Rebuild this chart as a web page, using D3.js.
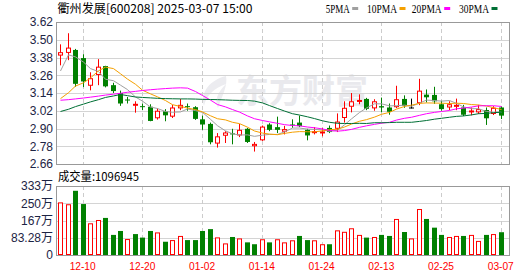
<!DOCTYPE html>
<html>
<head>
<meta charset="utf-8">
<script src="https://cdn.jsdelivr.net/npm/d3@7"></script>
<style>
body { margin: 0; background: #fff; }
svg { display: block; }
</style>
</head>
<body>
<div id="chart"></div>
<script>
// trading days (MM-DD)
const dates = [
    "12-05", "12-06", "12-09", "12-10", "12-11", "12-12", "12-13", "12-16", "12-17", "12-18",
    "12-19", "12-20", "12-23", "12-24", "12-25", "12-26", "12-27", "12-30", "12-31", "01-02",
    "01-03", "01-06", "01-07", "01-08", "01-09", "01-10", "01-13", "01-14", "01-15", "01-16",
    "01-17", "01-20", "01-21", "01-22", "01-23", "01-24", "01-27", "02-05", "02-06", "02-07",
    "02-10", "02-11", "02-12", "02-13", "02-14", "02-17", "02-18", "02-19", "02-20", "02-21",
    "02-24", "02-25", "02-26", "02-27", "02-28", "03-03", "03-04", "03-05", "03-06", "03-07"
];

// daily prices
const opens = [3.393, 3.411, 3.431, 3.376, 3.189, 3.262, 3.322, 3.193, 3.140, 3.096,
    3.056, 3.051, 3.047, 2.969, 3.016, 2.980, 3.036, 3.051, 3.044, 2.962,
    2.931, 2.798, 2.851, 2.867, 2.853, 2.898, 2.780, 2.820, 2.927, 2.909,
    2.878, 2.927, 2.940, 2.891, 2.869, 2.869, 2.904, 2.898, 2.971, 3.047,
    3.087, 3.100, 3.036, 3.051, 3.042, 3.044, 3.100, 3.042, 3.071, 3.129,
    3.127, 3.064, 3.042, 3.047, 3.042, 3.016, 3.009, 3.025, 2.998, 3.042];
const highs = [3.469, 3.544, 3.438, 3.402, 3.280, 3.369, 3.324, 3.209, 3.156, 3.113,
    3.084, 3.069, 3.064, 3.036, 3.031, 3.060, 3.100, 3.069, 3.051, 2.987,
    2.940, 2.869, 2.882, 2.898, 2.931, 2.904, 2.809, 2.920, 2.936, 2.980,
    2.918, 2.962, 2.987, 2.898, 2.909, 2.904, 2.920, 3.002, 3.084, 3.140,
    3.131, 3.107, 3.098, 3.109, 3.069, 3.189, 3.124, 3.102, 3.236, 3.164,
    3.182, 3.087, 3.084, 3.102, 3.060, 3.042, 3.060, 3.042, 3.051, 3.049];
const lows = [3.327, 3.362, 3.182, 3.180, 3.158, 3.193, 3.178, 3.140, 3.053, 3.069,
    3.007, 3.024, 2.949, 2.960, 2.949, 2.971, 3.024, 3.020, 2.958, 2.891,
    2.793, 2.771, 2.802, 2.793, 2.842, 2.802, 2.744, 2.816, 2.882, 2.869,
    2.860, 2.904, 2.909, 2.820, 2.860, 2.847, 2.869, 2.876, 2.940, 3.009,
    3.064, 3.024, 3.020, 3.009, 2.993, 3.038, 3.040, 3.036, 3.058, 3.076,
    3.067, 3.020, 3.024, 3.024, 2.984, 2.989, 2.998, 2.924, 2.991, 2.964];
const closes = [3.416, 3.447, 3.202, 3.218, 3.240, 3.318, 3.185, 3.153, 3.069, 3.089,
    3.067, 3.047, 2.951, 3.020, 2.989, 3.042, 3.060, 3.049, 2.965, 2.927,
    2.807, 2.847, 2.873, 2.864, 2.891, 2.809, 2.796, 2.913, 2.891, 2.891,
    2.896, 2.922, 2.916, 2.853, 2.882, 2.880, 2.876, 2.947, 3.040, 3.084,
    3.093, 3.033, 3.084, 3.042, 3.013, 3.098, 3.053, 3.042, 3.156, 3.111,
    3.084, 3.031, 3.064, 3.060, 2.993, 3.022, 3.031, 2.969, 3.040, 2.987];

// moving averages as drawn
const ma5 = [3.289, 3.398, 3.384, 3.349, 3.305, 3.285, 3.233, 3.223, 3.193, 3.163,
    3.113, 3.085, 3.045, 3.035, 3.015, 3.010, 3.012, 3.032, 3.021, 3.009,
    2.962, 2.919, 2.884, 2.864, 2.856, 2.857, 2.847, 2.855, 2.860, 2.860,
    2.877, 2.903, 2.903, 2.896, 2.894, 2.891, 2.881, 2.888, 2.925, 2.965,
    3.008, 3.039, 3.067, 3.067, 3.053, 3.054, 3.058, 3.050, 3.072, 3.092,
    3.089, 3.085, 3.089, 3.070, 3.046, 3.034, 3.034, 3.015, 3.011, 3.010];
const ma10 = [3.102, 3.142, 3.187, 3.209, 3.242, 3.290, 3.315, 3.305, 3.270, 3.234,
    3.199, 3.159, 3.134, 3.114, 3.089, 3.061, 3.049, 3.038, 3.028, 3.012,
    2.986, 2.966, 2.958, 2.942, 2.933, 2.909, 2.883, 2.869, 2.862, 2.858,
    2.867, 2.875, 2.879, 2.878, 2.877, 2.884, 2.892, 2.895, 2.910, 2.930,
    2.949, 2.960, 2.977, 2.996, 3.009, 3.031, 3.049, 3.058, 3.070, 3.073,
    3.072, 3.071, 3.069, 3.071, 3.069, 3.062, 3.059, 3.052, 3.041, 3.028];
const ma20 = [3.091, 3.095, 3.100, 3.106, 3.112, 3.119, 3.126, 3.132, 3.138, 3.145,
    3.151, 3.157, 3.162, 3.166, 3.170, 3.173, 3.175, 3.173, 3.150, 3.123,
    3.092, 3.062, 3.046, 3.028, 3.011, 2.985, 2.966, 2.954, 2.945, 2.935,
    2.926, 2.920, 2.918, 2.910, 2.905, 2.897, 2.887, 2.882, 2.886, 2.894,
    2.908, 2.918, 2.928, 2.936, 2.942, 2.957, 2.969, 2.976, 2.989, 3.000,
    3.009, 3.015, 3.022, 3.033, 3.038, 3.045, 3.053, 3.054, 3.054, 3.049];
const ma30 = [3.015, 3.030, 3.048, 3.065, 3.080, 3.095, 3.110, 3.120, 3.130, 3.122,
    3.113, 3.110, 3.107, 3.104, 3.102, 3.101, 3.100, 3.100, 3.099, 3.097,
    3.096, 3.095, 3.093, 3.091, 3.090, 3.089, 3.085, 3.073, 3.055, 3.035,
    3.018, 3.000, 2.991, 2.979, 2.967, 2.952, 2.942, 2.935, 2.934, 2.934,
    2.935, 2.934, 2.939, 2.939, 2.940, 2.942, 2.942, 2.942, 2.948, 2.954,
    2.963, 2.969, 2.976, 2.982, 2.985, 2.992, 3.000, 3.002, 3.007, 3.010];

// volume in 万 shares, and bar colour (1 = red, 0 = green)
const volumes = [254, 245, 310, 246, 153, 169, 179, 97, 116, 77,
    101, 84, 116, 109, 64, 72, 92, 72, 72, 116,
    125, 85, 56, 87, 80, 61, 52, 76, 61, 76,
    61, 71, 92, 72, 71, 52, 52, 119, 112, 129,
    97, 84, 87, 97, 92, 174, 111, 80, 222, 174,
    132, 97, 87, 92, 92, 97, 68, 97, 101, 110];
const volUp = [1, 1, 0, 0, 1, 1, 0, 0, 0, 1,
    0, 0, 0, 1, 0, 1, 1, 0, 0, 0,
    0, 1, 1, 0, 1, 0, 0, 1, 0, 1,
    1, 1, 0, 0, 1, 1, 0, 1, 1, 1,
    1, 0, 1, 0, 0, 1, 0, 1, 1, 0,
    0, 0, 1, 1, 0, 1, 1, 0, 1, 0];

// axis ticks
const priceTicks = [2.66, 2.78, 2.90, 3.02, 3.14, 3.26, 3.38, 3.50, 3.62];
const volTicks = [0, 83.28, 166.56, 249.84, 333.12];
const volTickLabels = ["0", "83.28万", "167万", "250万", "333万"];
const dateTicks = ["12-10", "12-20", "01-02", "01-14", "01-24", "02-13", "02-25", "03-07"];

const maNames = ["5PMA", "10PMA", "20PMA", "30PMA"];
const maColors = ["#a0a0a0", "#f5a000", "#ff00ff", "#006f35"];

const title = "衢州发展[600208] 2025-03-07 15:00";
const volTitle = "成交量:1096945";

const width = 530, height = 276;
const left = 56, right = 509;
const pTop = 22, pBottom = 164;
const vTop = 186, vBottom = 255;

const RED = "#ff0000", GREEN = "#008000";

const svg = d3.select("#chart").append("svg")
    .attr("width", width)
    .attr("height", height)
    .attr("viewBox", [0, 0, width, height])
    .style("font-family", "'Liberation Sans', Arial, sans-serif");

const x = d3.scaleBand(dates, [56.5, 504.5]);
const xc = d => Math.round(x(d) + x.bandwidth() / 2);
const y = d3.scaleLinear([2.66, 3.62], [pBottom, pTop]);
const yv = d3.scaleLinear([0, 333.12], [vBottom, vTop]);

// watermark
svg.append("text")
    .attr("x", 236)
    .attr("y", 103)
    .attr("font-family", "'Noto Sans CJK SC', sans-serif")
    .attr("font-weight", "bold")
    .attr("font-size", 33)
    .attr("fill", "#e9e9ed")
    .text("东方财富");
svg.append("path")
    .attr("d", "M226,76 C210,80 200,92 204,106 C206,96 214,88 226,84 C218,92 214,100 218,108 C222,96 228,86 226,76 Z")
    .attr("fill", "#ececf0");

// horizontal grid lines
svg.append("g")
    .attr("stroke", "#d4d4d4")
    .selectAll("line")
    .data(priceTicks.slice(1, -1))
    .join("line")
    .attr("x1", left).attr("x2", right)
    .attr("y1", d => Math.round(y(d)) + 0.5)
    .attr("y2", d => Math.round(y(d)) + 0.5);

svg.append("g")
    .attr("stroke", "#d4d4d4")
    .selectAll("line")
    .data(volTicks.slice(1, -1))
    .join("line")
    .attr("x1", left).attr("x2", right)
    .attr("y1", d => Math.round(yv(d)) + 0.5)
    .attr("y2", d => Math.round(yv(d)) + 0.5);

// vertical dashed grid lines
[[pTop, pBottom], [vTop, vBottom]].forEach(([t, b]) => {
    svg.append("g")
        .attr("stroke", "#cccccc")
        .attr("stroke-dasharray", "4,3")
        .selectAll("line")
        .data(dateTicks)
        .join("line")
        .attr("x1", d => xc(d) + 0.5).attr("x2", d => xc(d) + 0.5)
        .attr("y1", t).attr("y2", b);
});

// frames
[[pTop, pBottom], [vTop, vBottom]].forEach(([t, b]) => {
    svg.append("rect")
        .attr("x", left + 0.5).attr("y", t + 0.5)
        .attr("width", right - left).attr("height", b - t)
        .attr("fill", "none")
        .attr("stroke", "#999");
});

// candles
const candle = svg.append("g")
    .selectAll("g")
    .data(dates.map((d, i) => i))
    .join("g")
    .attr("transform", i => `translate(${xc(dates[i])},0)`);

const candleColor = i => closes[i] > opens[i] ? RED : closes[i] < opens[i] ? GREEN : "#000";

candle.append("line")
    .attr("x1", 0.5).attr("x2", 0.5)
    .attr("y1", i => y(highs[i]))
    .attr("y2", i => y(lows[i]))
    .attr("stroke", candleColor);

candle.append("rect")
    .attr("x", i => closes[i] > opens[i] ? -1.5 : -2)
    .attr("y", i => y(Math.max(opens[i], closes[i])) + (closes[i] > opens[i] ? 0.5 : 0))
    .attr("width", i => closes[i] > opens[i] ? 4 : 5)
    .attr("height", i => {
        const h = Math.abs(y(opens[i]) - y(closes[i]));
        return closes[i] > opens[i] ? Math.max(h - 1, 1) : Math.max(h, 1);
    })
    .attr("fill", i => closes[i] > opens[i] ? "#fff" : candleColor(i))
    .attr("stroke", i => closes[i] > opens[i] ? RED : "none");

// moving average lines
[ma5, ma10, ma20, ma30].forEach((ma, k) => {
    svg.append("path")
        .datum(ma)
        .attr("fill", "none")
        .attr("stroke", maColors[k])
        .attr("stroke-width", 1)
        .attr("d", d3.line()
            .x((d, i) => xc(dates[i]) + 0.5)
            .y(d => y(d)));
});

// volume bars
svg.append("g")
    .selectAll("rect")
    .data(volumes)
    .join("rect")
    .attr("x", (d, i) => xc(dates[i]) + (volUp[i] ? -1.5 : -2))
    .attr("y", (d, i) => yv(d) + (volUp[i] ? 0.5 : 0))
    .attr("width", (d, i) => volUp[i] ? 4 : 5)
    .attr("height", (d, i) => vBottom - yv(d) - (volUp[i] ? 1 : 0))
    .attr("fill", (d, i) => volUp[i] ? "#fff" : GREEN)
    .attr("stroke", (d, i) => volUp[i] ? RED : "none");

// price axis
svg.append("g")
    .attr("transform", `translate(${left},0)`)
    .call(d3.axisLeft(y).tickValues(priceTicks).tickFormat(d3.format(".2f")).tickSize(0).tickPadding(3))
    .call(g => g.select(".domain").remove())
    .call(g => g.selectAll("text")
        .attr("fill", "#1c2444")
        .attr("font-size", 12)
        .attr("font-family", "'Liberation Sans', Arial, sans-serif"));

// volume axis
svg.append("g")
    .attr("transform", `translate(${left},0)`)
    .call(d3.axisLeft(yv).tickValues(volTicks).tickFormat((d, i) => volTickLabels[i]).tickSize(0).tickPadding(3))
    .call(g => g.select(".domain").remove())
    .call(g => g.selectAll("text")
        .attr("fill", "#1c2444")
        .attr("font-size", 12)
        .attr("font-family", "'Liberation Sans', 'Noto Sans CJK SC', sans-serif"));

// date axis
svg.append("g")
    .attr("transform", `translate(0,${vBottom})`)
    .call(d3.axisBottom(x).tickValues(dateTicks).tickSize(0).tickPadding(7))
    .call(g => g.select(".domain").remove())
    .call(g => g.selectAll("text")
        .attr("fill", RED)
        .attr("font-size", 11)
        .attr("textLength", 26)
        .attr("lengthAdjust", "spacingAndGlyphs")
        .attr("font-family", "'Liberation Sans', Arial, sans-serif"));

// titles
svg.append("text")
    .attr("x", 57.5).attr("y", 12.5)
    .attr("font-size", 12)
    .attr("font-family", "'Noto Sans CJK SC', sans-serif")
    .attr("textLength", 195)
    .attr("lengthAdjust", "spacingAndGlyphs")
    .attr("fill", "#000")
    .text(title);

svg.append("text")
    .attr("x", 58).attr("y", 181)
    .attr("font-size", 12)
    .attr("font-family", "'Noto Sans CJK SC', sans-serif")
    .attr("textLength", 81)
    .attr("lengthAdjust", "spacingAndGlyphs")
    .attr("fill", "#000")
    .text(volTitle);

// legend
const legendX = [325.7, 367, 411.7, 459];
const legend = svg.append("g")
    .selectAll("g")
    .data(maNames)
    .join("g")
    .attr("transform", (d, i) => `translate(${legendX[i]},0)`);

legend.append("text")
    .attr("y", 12.5)
    .attr("font-size", 12)
    .attr("font-family", "'Liberation Serif', serif")
    .attr("textLength", d => d.length * 6)
    .attr("lengthAdjust", "spacingAndGlyphs")
    .text(d => d);

legend.append("rect")
    .attr("x", d => d.length * 6 + 2.5)
    .attr("y", 7)
    .attr("width", 6)
    .attr("height", 3)
    .attr("fill", (d, i) => maColors[i]);
</script>
</body>
</html>
